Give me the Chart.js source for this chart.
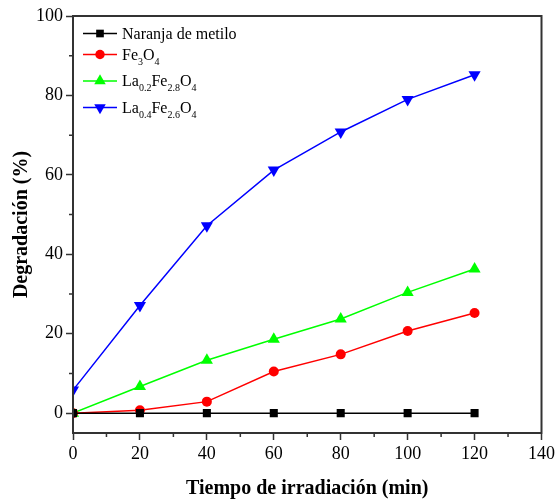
<!DOCTYPE html>
<html>
<head>
<meta charset="utf-8">
<script src="https://cdn.jsdelivr.net/npm/chart.js@4.4.1/dist/chart.umd.min.js"></script>
<style>
  html, body { margin: 0; padding: 0; background: #fff; }
  #wrap { width: 558px; height: 502px; }
</style>
</head>
<body>
<div id="wrap"><canvas id="grafico" width="558" height="502"></canvas></div>
<script>
// datos
const tiempo = [0, 20, 40, 60, 80, 100, 120];
const naranja = [0, 0, 0, 0, 0, 0, 0];
const fe3o4 = [0, 0.7, 2.9, 10.5, 14.8, 20.7, 25.2];
const la02 = [0, 6.7, 13.3, 18.6, 23.7, 30.4, 36.3];
const la04 = [5.8, 27.1, 47.2, 61.2, 70.8, 79.0, 85.2];

const xTicks = [0, 20, 40, 60, 80, 100, 120, 140];
const xMinor = [10, 30, 50, 70, 90, 110, 130];
const yTicks = [0, 20, 40, 60, 80, 100];
const yMinor = [10, 30, 50, 70, 90];

const nombres = ['Naranja de metilo', 'Fe_{3}O_{4}', 'La_{0.2}Fe_{2.8}O_{4}', 'La_{0.4}Fe_{2.6}O_{4}'];

const fuente = '"Liberation Serif", "Times New Roman", serif';
const ejeColor = '#333';

function puntos(ys) {
    return tiempo.map((t, i) => ({ x: t, y: ys[i] }));
}

function serie(label, ys, color, estilo, radio, rot) {
    return {
        label: label,
        data: puntos(ys),
        borderColor: color,
        backgroundColor: color,
        borderWidth: 1.5,
        pointStyle: estilo,
        pointRadius: radio,
        pointHoverRadius: radio,
        pointRotation: rot || 0,
        pointBorderWidth: 0,
        tension: 0
    };
}

// marcador a mano para la leyenda
function marcador(ctx, estilo, rot, r, x, y) {
    ctx.beginPath();
    if (estilo === 'rect') {
        const s = r * Math.SQRT1_2;
        ctx.rect(x - s, y - s, 2 * s, 2 * s);
    } else if (estilo === 'circle') {
        ctx.arc(x, y, r, 0, Math.PI * 2);
    } else {
        let a = rot * Math.PI / 180;
        ctx.moveTo(x + Math.sin(a) * r, y - Math.cos(a) * r);
        for (let k = 0; k < 2; k++) {
            a += 2 * Math.PI / 3;
            ctx.lineTo(x + Math.sin(a) * r, y - Math.cos(a) * r);
        }
        ctx.closePath();
    }
    ctx.fill();
}

// texto con subindices tipo La_{0.2}
function textoSub(ctx, txt, x, y) {
    const partes = txt.split(/_\{([^}]*)\}/);
    partes.forEach((p, i) => {
        if (!p) return;
        if (i % 2 === 0) {
            ctx.font = '16px ' + fuente;
            ctx.fillText(p, x, y);
        } else {
            ctx.font = '10px ' + fuente;
            ctx.fillText(p, x, y + 5);
        }
        x += ctx.measureText(p).width;
    });
}

const leyendaBase = [38.5, 59.5, 86, 112.5];

const extras = {
    id: 'extras',
    afterDraw(chart) {
        const ctx = chart.ctx;
        const a = chart.chartArea;
        const sx = chart.scales.x, sy = chart.scales.y;
        ctx.save();
        // marco
        ctx.strokeStyle = ejeColor;
        ctx.lineWidth = 2;
        ctx.strokeRect(a.left, a.top, a.right - a.left, a.bottom - a.top);
        // ticks menores
        ctx.lineWidth = 1.5;
        ctx.beginPath();
        xMinor.forEach(v => {
            const px = sx.getPixelForValue(v);
            ctx.moveTo(px, a.bottom);
            ctx.lineTo(px, a.bottom + 4);
        });
        yMinor.forEach(v => {
            const py = sy.getPixelForValue(v);
            ctx.moveTo(a.left, py);
            ctx.lineTo(a.left - 4, py);
        });
        ctx.stroke();
        // leyenda
        chart.data.datasets.forEach((ds, i) => {
            const yb = leyendaBase[i];
            const ym = yb - 5;
            ctx.strokeStyle = ds.borderColor;
            ctx.fillStyle = ds.borderColor;
            ctx.lineWidth = 1.5;
            ctx.beginPath();
            ctx.moveTo(83, ym);
            ctx.lineTo(117, ym);
            ctx.stroke();
            marcador(ctx, ds.pointStyle, ds.pointRotation, ds.pointRadius * 0.95, 100, ym);
            ctx.fillStyle = '#000';
            ctx.textBaseline = 'alphabetic';
            ctx.textAlign = 'left';
            textoSub(ctx, nombres[i], 122, yb);
        });
        ctx.restore();
    }
};

new Chart(document.getElementById('grafico'), {
    type: 'line',
    data: {
        datasets: [
            serie(nombres[0], naranja, '#000000', 'rect', 5.7, 0),
            serie(nombres[1], fe3o4, '#ff0000', 'circle', 5, 0),
            serie(nombres[2], la02, '#00ff00', 'triangle', 7, 0),
            serie(nombres[3], la04, '#0000ff', 'triangle', 7, 180)
        ]
    },
    options: {
        responsive: false,
        animation: false,
        devicePixelRatio: 1,
        layout: { padding: { left: 0, right: 15, top: 16, bottom: 0 } },
        plugins: {
            legend: { display: false },
            tooltip: { enabled: false }
        },
        scales: {
            x: {
                type: 'linear',
                min: 0,
                max: 140,
                afterBuildTicks: s => { s.ticks = xTicks.map(v => ({ value: v })); },
                afterFit: s => { s.height = 69; },
                grid: { drawOnChartArea: false, tickLength: 7, tickColor: ejeColor, tickWidth: 1.5 },
                border: { color: ejeColor, width: 2 },
                ticks: { color: '#000', padding: 3, maxRotation: 0, font: { family: fuente, size: 18 } },
                title: {
                    display: true,
                    text: 'Tiempo de irradiación (min)',
                    color: '#000',
                    padding: { top: 0, bottom: 1 },
                    font: { family: fuente, size: 20, weight: 'bold' }
                }
            },
            y: {
                min: -5,
                max: 100,
                afterBuildTicks: s => { s.ticks = yTicks.map(v => ({ value: v })); },
                afterFit: s => { s.width = 73; },
                grid: { drawOnChartArea: false, tickLength: 7, tickColor: ejeColor, tickWidth: 1.5 },
                border: { color: ejeColor, width: 2 },
                ticks: { color: '#000', padding: 3, font: { family: fuente, size: 18 } },
                title: {
                    display: true,
                    text: 'Degradación (%)',
                    color: '#000',
                    padding: { top: 10, bottom: 0 },
                    font: { family: fuente, size: 20, weight: 'bold' }
                }
            }
        }
    },
    plugins: [extras]
});
</script>
</body>
</html>
